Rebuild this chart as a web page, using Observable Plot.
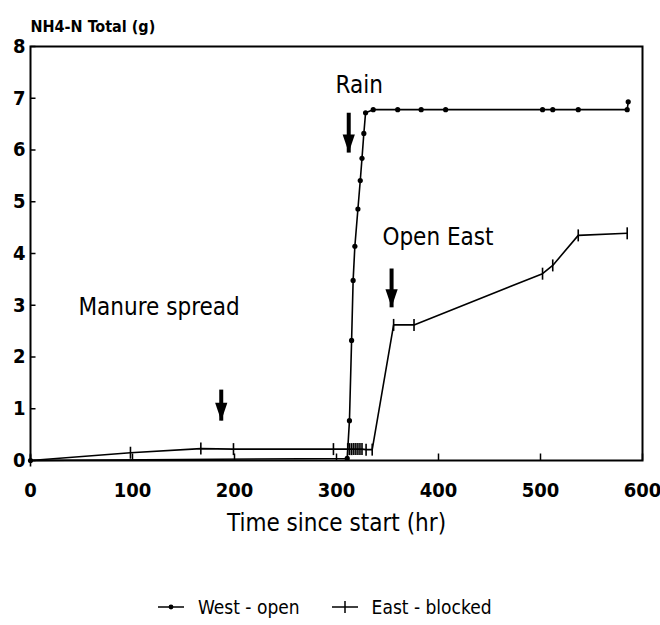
<!DOCTYPE html>
<html><head><meta charset="utf-8">
<script src="https://cdn.jsdelivr.net/npm/d3@7"></script>
<script src="https://cdn.jsdelivr.net/npm/@observablehq/plot@0.6"></script>
<style>
body{margin:0;background:#fff;}
#chart{width:660px;height:625px;position:relative;font-family:"DejaVu Sans Condensed","Liberation Sans Narrow","DejaVu Sans",sans-serif;font-stretch:condensed;color:#000;}
#chart svg, #chart svg text{font-stretch:condensed;}
.legend{display:flex;align-items:center;height:24px;margin-top:15px;padding-left:158px;font-size:19px;}
.legend svg{display:block;margin-right:14px;}
.legend span.w{margin-right:32px;}
</style></head><body><div id="chart"></div>
<script>
const xTicks = [0, 100, 200, 300, 400, 500, 600];
const yTicks = [0, 1, 2, 3, 4, 5, 6, 7, 8];
const yTitle = "NH4-N Total (g)";
const xTitle = "Time since start (hr)";
const seriesNames = ["West - open", "East - blocked"];

const westHours  = [0, 310.5, 312.7, 314.8, 316.3, 318, 321, 323.3, 325, 326.8, 328.5, 336, 360, 383, 407, 502, 512, 537, 585, 586];
const westValues = [0, 0.04, 0.77, 2.32, 3.48, 4.14, 4.86, 5.41, 5.84, 6.32, 6.72, 6.78, 6.78, 6.78, 6.78, 6.78, 6.78, 6.78, 6.78, 6.93];

const eastHours  = [0, 98, 167, 199, 297, 311, 313, 315, 317, 319, 321, 323, 325, 329, 335, 356, 376, 502, 512, 537, 585];
const eastValues = [0, 0.15, 0.23, 0.22, 0.22, 0.22, 0.22, 0.22, 0.22, 0.22, 0.22, 0.22, 0.22, 0.21, 0.21, 2.62, 2.62, 3.61, 3.77, 4.35, 4.39];

const annotLabels = ["Rain", "Open East", "Manure spread"];
const annotHours  = [299, 345, 47];
const annotValues = [7.25, 4.31, 2.96];
const arrowHours  = [312, 354, 187];
const arrowTops   = [6.72, 3.71, 1.37];
const arrowTips   = [5.95, 2.96, 0.77];

const west = westHours.map((h, i) => ({hour: h, value: westValues[i]}));
const east = eastHours.map((h, i) => ({hour: h, value: eastValues[i]}));
const annots = annotLabels.map((l, i) => ({label: l, hour: annotHours[i], value: annotValues[i]}));
const arrows = arrowHours.map((h, i) => ({hour: h, top: arrowTops[i], tip: arrowTips[i]}));

const font = '"DejaVu Sans Condensed","Liberation Sans Narrow","DejaVu Sans",sans-serif';
const rad = s => Math.sqrt(s / Math.PI);
const tickUp = {draw(ctx, s) { const r = rad(s); ctx.moveTo(0, 0); ctx.lineTo(0, -r); }};
const tickRight = {draw(ctx, s) { const r = rad(s); ctx.moveTo(0, 0); ctx.lineTo(r, 0); }};
const vbar = {draw(ctx, s) { const r = rad(s); ctx.moveTo(0, -r); ctx.lineTo(0, r); }};
const headDown = {draw(ctx, s) { const r = rad(s); ctx.moveTo(0, 0); ctx.lineTo(-0.34 * r, -r); ctx.lineTo(0.34 * r, -r); ctx.closePath(); }};

const chart = Plot.plot({
  width: 660, height: 580,
  marginLeft: 30, marginRight: 18, marginTop: 46, marginBottom: 120,
  x: {domain: [0, 600]},
  y: {domain: [0, 8]},
  style: {fontFamily: font, fontStretch: "condensed", color: "black", background: "white"},
  marks: [
    Plot.frame({stroke: "black", strokeWidth: 2}),
    Plot.dot(xTicks, {x: d => d, frameAnchor: "bottom", symbol: tickUp, r: 7, stroke: "black", strokeWidth: 1.5, fill: "none"}),
    Plot.dot(yTicks, {y: d => d, frameAnchor: "left", symbol: tickRight, r: 5, stroke: "black", strokeWidth: 1.5, fill: "none"}),
    Plot.axisX(xTicks, {tickSize: 0, tickPadding: 22, fontSize: 20, fontWeight: "bold", tickFormat: d3.format("d"), label: null}),
    Plot.axisY(yTicks, {tickSize: 0, tickPadding: 5, fontSize: 20, fontWeight: "bold", tickFormat: d3.format("d"), label: null}),
    Plot.text([xTitle], {frameAnchor: "bottom", dy: 70, text: d => d, fontSize: 24}),
    Plot.text([yTitle], {frameAnchor: "top-left", dy: -26, text: d => d, textAnchor: "start", fontSize: 16, fontWeight: "bold"}),
    Plot.line(west, {x: "hour", y: "value", stroke: "black", strokeWidth: 1.6}),
    Plot.dot(west, {x: "hour", y: "value", r: 2.6, fill: "black"}),
    Plot.line(east, {x: "hour", y: "value", stroke: "black", strokeWidth: 1.6}),
    Plot.dot(east, {x: "hour", y: "value", symbol: vbar, r: 6, stroke: "black", strokeWidth: 1.6, fill: "none"}),
    Plot.text(annots, {x: "hour", y: "value", text: "label", textAnchor: "start", fontSize: 24}),
    Plot.link(arrows, {x1: "hour", x2: "hour", y1: "top", y2: "tip", stroke: "black", strokeWidth: 4}),
    Plot.dot(arrows, {x: "hour", y: "tip", symbol: headDown, r: 18, fill: "black", stroke: "none"})
  ]
});
const root = document.getElementById("chart");
root.appendChild(chart);
const legend = document.createElement("div");
legend.className = "legend";
legend.innerHTML =
  `<svg width="26" height="12"><line x1="0" y1="6" x2="26" y2="6" stroke="black" stroke-width="1.5"/><circle cx="13" cy="6" r="2.4" fill="black"/></svg><span class="w">${seriesNames[0]}</span>` +
  `<svg width="26" height="14"><line x1="0" y1="7" x2="26" y2="7" stroke="black" stroke-width="1.5"/><line x1="13" y1="1" x2="13" y2="13" stroke="black" stroke-width="1.5"/></svg><span>${seriesNames[1]}</span>`;
root.appendChild(legend);
</script></body></html>
